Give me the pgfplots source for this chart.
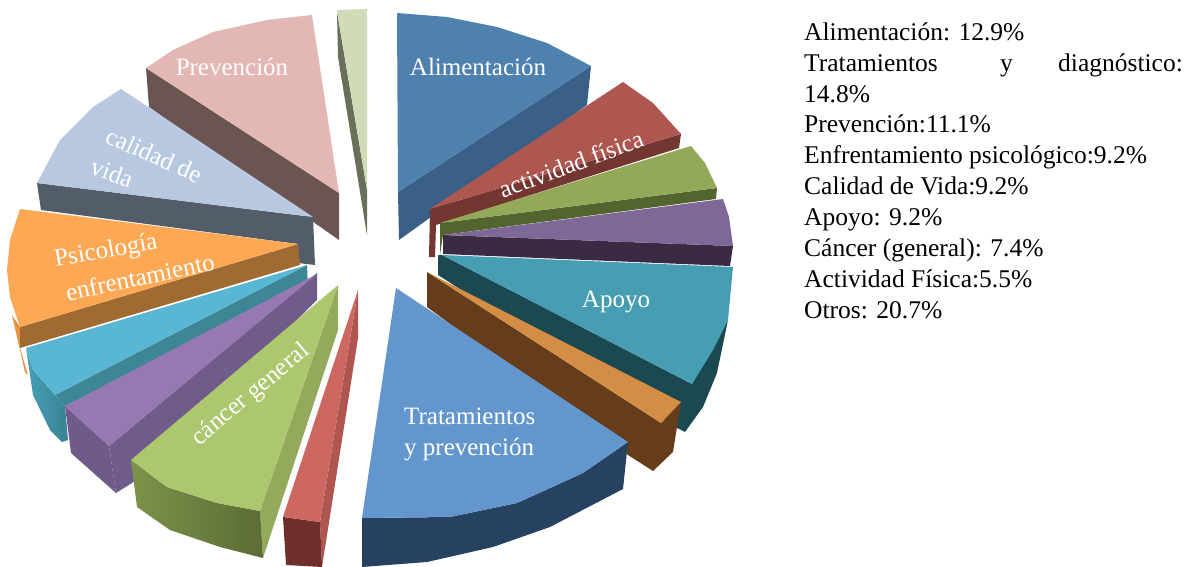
\documentclass[border=0pt]{standalone}
\usepackage{pgfplots}
\pgfplotsset{compat=1.18}
\usepackage{fontspec}
\setmainfont{Liberation Serif}
\newcommand{\lab}{\fontsize{25}{25}\selectfont}
\newcommand{\side}{\fontsize{25.5}{30}\selectfont}
\begin{document}
\begin{tikzpicture}
\begin{axis}[width=1202pt,height=567pt,scale only axis,hide axis,xmin=0,xmax=1202,ymin=0,ymax=567,y dir=reverse,
  every axis plot/.append style={draw=none,fill opacity=1}]
% Prevencion
\addplot[fill=black!0!white,fill=white] coordinates {(0,0)(1202,0)(1202,567)(0,567)} --cycle;
\addplot[fill={rgb,255:red,106;green,85;blue,83}] coordinates {(146,68)(339,193)(339,240)(149,107)} --cycle;
\addplot[fill={rgb,255:red,227;green,183;blue,180}] coordinates {(146,68)(173,50)(213,32)(267,20)(312,15)(339,193)} --cycle;
% Otros (verde claro)
\addplot[fill={rgb,255:red,104;green,112;blue,90}] coordinates {(337,12)(367,190)(367,235)(338,57)} --cycle;
\addplot[fill={rgb,255:red,208;green,220;blue,184}] coordinates {(337,10)(367,9)(367,190)} --cycle;
% Alimentacion
\addplot[fill={rgb,255:red,58;green,96;blue,135}] coordinates {(591,66)(398,192)(399,240)(587,105)} --cycle;
\addplot[fill={rgb,255:red,79;green,129;blue,175}] coordinates {(397,13)(447,17)(497,27)(547,43)(591,66)(398,192)} --cycle;
% Actividad fisica
\addplot[fill={rgb,255:red,115;green,54;blue,48}] coordinates {(430,209)(681,134)(679,148)(436,225)(435,257)(429,257)} --cycle;
\addplot[fill={rgb,255:red,173;green,87;blue,80}] coordinates {(430,209)(623,82)(653,103)(681,134)} --cycle;
% Verde
\addplot[fill={rgb,255:red,83;green,100;blue,47}] coordinates {(440,223)(717,188)(716,199)(443,235)(440,255)} --cycle;
\addplot[fill={rgb,255:red,147;green,168;blue,88}] coordinates {(440,223)(691,146)(705,163)(717,188)} --cycle;
% Morado oscuro
\addplot[fill={rgb,255:red,59;green,42;blue,68}] coordinates {(443,235)(733,246)(730,266)(443,254)} --cycle;
\addplot[fill={rgb,255:red,127;green,103;blue,151}] coordinates {(443,235)(723,199)(729,217)(733,246)} --cycle;
% Apoyo
\addplot[fill={rgb,255:red,28;green,72;blue,82}] coordinates {(442,255)(692,384)(728,320)(717,373)(703,407)(685,432)(677,428)(438,275)(438,255)} --cycle;
\addplot[fill={rgb,255:red,71;green,158;blue,179}] coordinates {(442,255)(733,267)(728,320)(713,350)(692,384)} --cycle;
% Naranja oscuro
\addplot[fill={rgb,255:red,102;green,61;blue,27}] coordinates {(427,272)(661,423)(681,402)(673,452)(653,471)(628,455)(427,307)} --cycle;
\addplot[fill={rgb,255:red,211;green,141;blue,68}] coordinates {(427,272)(681,402)(661,423)} --cycle;
% Tratamientos
\addplot[fill={rgb,255:red,39;green,65;blue,96}] coordinates {(362,518)(450,517)(517,503)(583,473)(628,442)(623,489)(550,527)(493,547)(427,562)(362,567)} --cycle;
\addplot[fill={rgb,255:red,99;green,150;blue,204}] coordinates {(396,288)(628,442)(583,473)(517,503)(450,517)(362,518)} --cycle;
% Calidad de vida
\addplot[fill={rgb,255:red,83;green,92;blue,105}] coordinates {(37,183)(313,217)(315,265)(298,263)(298,244)(41,210)} --cycle;
\addplot[fill={rgb,255:red,184;green,200;blue,224}] coordinates {(313,217)(121,89)(93,107)(60,140)(37,183)} --cycle;
% Psicologia
\addplot[fill={rgb,255:red,232;green,147;blue,62}] coordinates {(12,315)(20,327)(20,348)(28,375)(25,372)} --cycle;
\addplot[fill={rgb,255:red,160;green,106;blue,51}] coordinates {(298,244)(20,327)(20,348)(300,265)} --cycle;
\addplot[fill={rgb,255:red,252;green,168;blue,84}] coordinates {(298,244)(20,209)(10,240)(7,270)(10,297)(20,327)} --cycle;
% Azul claro
\addplot[fill={rgb,255:red,62;green,133;blue,149}] coordinates {(307,265)(55,395)(65,406)(308,288)} --cycle;
\addplot[left color={rgb,255:red,70;green,160;blue,182},right color={rgb,255:red,58;green,130;blue,148}] coordinates {(26,348)(33,370)(55,395)(62,442)(68,440)(65,406)(55,395)(62,442)(50,430)(33,395)} --cycle;
\addplot[fill={rgb,255:red,90;green,183;blue,211}] coordinates {(307,265)(26,348)(33,370)(55,395)} --cycle;
% Morado claro
\addplot[fill={rgb,255:red,112;green,92;blue,138}] coordinates {(317,273)(109,446)(116,493)(132,483)(317,300)} --cycle;
\addplot[fill={rgb,255:red,111;green,90;blue,138}] coordinates {(65,406)(109,446)(116,493)(71,453)} --cycle;
\addplot[fill={rgb,255:red,150;green,121;blue,179}] coordinates {(317,274)(65,406)(109,446)} --cycle;
% Cancer general
\addplot[fill={rgb,255:red,147;green,170;blue,92}] coordinates {(338,285)(260,511)(263,558)(338,330)} --cycle;
\addplot[left color={rgb,255:red,125;green,146;blue,74},right color={rgb,255:red,92;green,108;blue,52}] coordinates {(131,460)(167,487)(217,503)(260,511)(263,558)(220,547)(170,530)(137,507)} --cycle;
\addplot[fill={rgb,255:red,173;green,199;blue,111}] coordinates {(338,285)(131,460)(167,487)(217,503)(260,511)} --cycle;
% Rojo
\addplot[fill={rgb,255:red,175;green,86;blue,80}] coordinates {(358,290)(320,522)(322,567)(358,338)} --cycle;
\addplot[fill={rgb,255:red,110;green,46;blue,43}] coordinates {(283,517)(320,522)(322,567)(286,565)} --cycle;
\addplot[fill={rgb,255:red,204;green,104;blue,96}] coordinates {(358,290)(283,517)(320,522)} --cycle;
% Etiquetas
\begin{scope}[every node/.style={text=white,font=\lab,inner sep=0pt}]
\node at (axis cs:478,67) {Alimentación};
\node at (axis cs:232,67) {Prevención};
\node[rotate=20.4] at (axis cs:571,164) {actividad física};
\node at (axis cs:616,302) {Apoyo};
\node[anchor=base west] at (axis cs:404,424) {Tratamientos};
\node[anchor=base west] at (axis cs:404,455) {y prevención};
\node[rotate=40] at (axis cs:251,395) {cáncer general};
\node[rotate=-24] at (axis cs:154,155) {calidad de};
\node[rotate=-20] at (axis cs:112,173) {vida};
\node[rotate=10] at (axis cs:106,252) {Psicología};
\node[rotate=12] at (axis cs:140,277) {enfrentamiento};
\end{scope}
% Texto lateral
\begin{scope}[every node/.style={text=black,font=\side,inner sep=0pt,anchor=base west}]
\node at (axis cs:804,41) {Alimentación: 12.9\%};
\node at (axis cs:804,71.5) {Tratamientos};
\node at (axis cs:1000,71.5) {y};
\node at (axis cs:1058,71.5) {diagnóstico:};
\node at (axis cs:804,102.5) {14.8\%};
\node at (axis cs:804,133) {Prevención:11.1\%};
\node at (axis cs:804,164) {Enfrentamiento psicológico:9.2\%};
\node at (axis cs:804,194.5) {Calidad de Vida:9.2\%};
\node at (axis cs:804,225.5) {Apoyo: 9.2\%};
\node at (axis cs:804,256.5) {Cáncer (general): 7.4\%};
\node at (axis cs:804,287) {Actividad Física:5.5\%};
\node at (axis cs:804,318) {Otros: 20.7\%};
\end{scope}
\end{axis}
\end{tikzpicture}
\end{document}
